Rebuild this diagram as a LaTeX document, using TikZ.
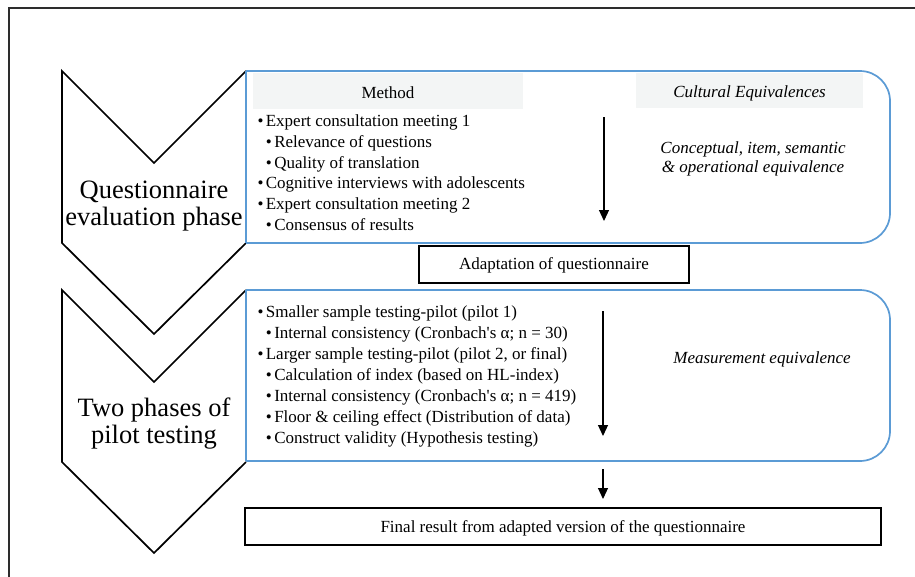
\documentclass[tikz,border=0pt]{standalone}
\usepackage{fontspec}
\setmainfont{Liberation Serif}
\usetikzlibrary{arrows.meta}
\definecolor{boxblue}{RGB}{91,155,213}
\definecolor{hdrgray}{RGB}{243,245,245}
\definecolor{framegray}{RGB}{45,45,45}
\newcommand{\bul}{•\hspace{2.4pt}}
\newcommand{\apo}{\textquotesingle}
\tikzset{
  frameline/.style={draw=framegray, line width=2.6pt},
  chev/.style={draw=black, line width=1.7pt, line join=miter},
  bluebox/.style={draw=boxblue, line width=1.7pt},
  blackbox/.style={draw=black, line width=2pt, inner sep=0pt, font=\fontsize{17}{20}\selectfont},
  body/.style={font=\fontsize{17}{20}\selectfont, inner sep=0pt, anchor=base west},
  ctext/.style={font=\fontsize{17}{20}\selectfont, inner sep=0pt, anchor=base},
  itext/.style={font=\fontsize{17}{20}\selectfont\itshape, inner sep=0pt, anchor=base},
  bigtext/.style={font=\fontsize{26.5}{28}\selectfont, inner sep=0pt, anchor=base},
  flowarrow/.style={draw=black, line width=1.2pt, -{Triangle[width=10pt,length=11pt]}},
}
\begin{document}
\begin{tikzpicture}[x=1pt,y=-1pt]
\useasboundingbox (0,0) rectangle (915,576);
\clip (0,0) rectangle (915,576);
\fill[white] (0,0) rectangle (915,576);
% outer frame
\draw[frameline] (9,8) rectangle (940,600);

% chevrons
\draw[chev] (246,71) -- (154,163) -- (62,71) -- (62,243) -- (154,334) -- (246,243);
\draw[chev] (246,290) -- (154,382) -- (62,290) -- (62,462) -- (154,553) -- (246,462);
\node[bigtext] (q1) at (154,198) {Questionnaire};
\node[bigtext] (q2) at (154,225) {evaluation phase};
\node[bigtext] (p1) at (154,416) {Two phases of};
\node[bigtext] (p2) at (154,443) {pilot testing};

% box 1
\fill[hdrgray] (253,73) rectangle (523,109);
\fill[hdrgray] (636,73) rectangle (863,108);
\draw[bluebox] (246,71) -- (246,243);
\draw[bluebox, rounded corners=30pt] (246,71) -- (890,71) -- (890,243) -- (246,243);
\node[ctext] (meth) at (388,98) {Method};
\node[itext] (cult) at (749.5,97.5) {Cultural Equivalences};
\node[body] (l1) at (257.3,126.7) {\bul Expert consultation meeting 1};
\node[body] (l2) at (265.7,147.4) {\bul Relevance of questions};
\node[body] (l3) at (265.7,168.1) {\bul Quality of translation};
\node[body] (l4) at (257.3,188.8) {\bul Cognitive interviews with adolescents};
\node[body] (l5) at (257.3,209.5) {\bul Expert consultation meeting 2};
\node[body] (l6) at (265.7,230.2) {\bul Consensus of results};
\node[itext] (c1) at (753,153) {Conceptual, item, semantic};
\node[itext] (c2) at (753,172.7) {\& operational equivalence};
\coordinate (a1s) at (604,117);
\coordinate (a1e) at (604,221);
\draw[flowarrow] (a1s) -- (a1e);

% adaptation box
\node[blackbox, minimum width=270pt, minimum height=37pt, text height=13pt, text depth=3pt] (adapt) at (554,264.5) {Adaptation of questionnaire};

% box 2
\draw[bluebox] (246,290) -- (246,461);
\draw[bluebox, rounded corners=30pt] (246,290) -- (890,290) -- (890,461) -- (246,461);
\node[body] (m1) at (257.3,317) {\bul Smaller sample testing-pilot (pilot 1)};
\node[body] (m2) at (265.7,338) {\bul Internal consistency (Cronbach\apo s α; n = 30)};
\node[body] (m3) at (257.3,359) {\bul Larger sample testing-pilot (pilot 2, or final)};
\node[body] (m4) at (265.7,380) {\bul Calculation of index (based on HL-index)};
\node[body] (m5) at (265.7,401) {\bul Internal consistency (Cronbach\apo s α; n = 419)};
\node[body] (m6) at (265.7,422) {\bul Floor \& ceiling effect (Distribution of data)};
\node[body] (m7) at (265.7,443) {\bul Construct validity (Hypothesis testing)};
\node[itext] (meas) at (762,363) {Measurement equivalence};
\coordinate (a2s) at (603,311);
\coordinate (a2e) at (603,436);
\draw[flowarrow] (a2s) -- (a2e);

% final
\coordinate (a3s) at (603,469);
\coordinate (a3e) at (603,499);
\draw[flowarrow] (a3s) -- (a3e);
\node[blackbox, minimum width=636pt, minimum height=37pt, text height=13pt, text depth=2pt] (final) at (563,526.5) {Final result from adapted version of the questionnaire};
\end{tikzpicture}
\end{document}
